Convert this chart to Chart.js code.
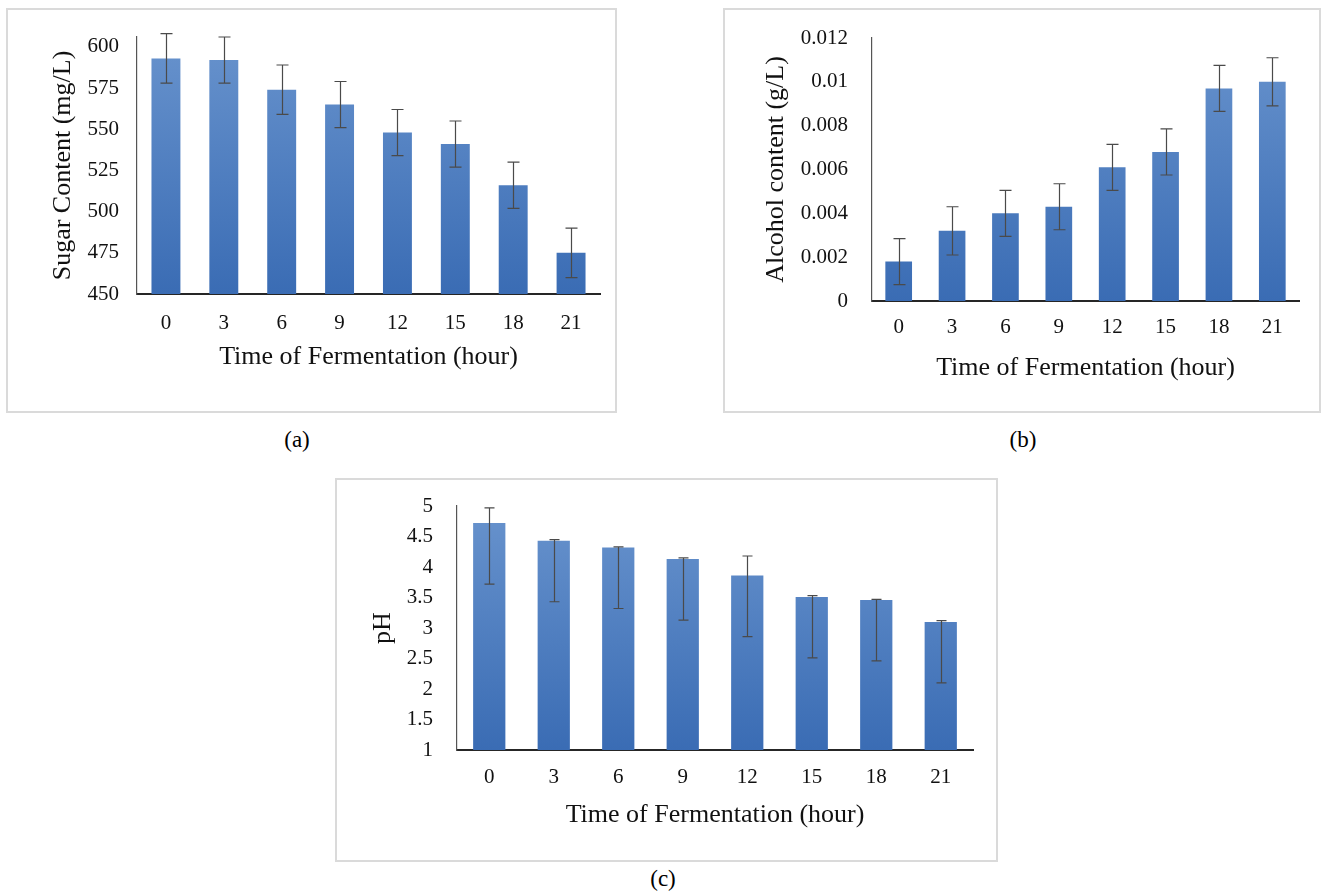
<!DOCTYPE html>
<html>
<head>
<meta charset="utf-8">
<script src="https://cdn.jsdelivr.net/npm/chart.js@4.4.0/dist/chart.umd.min.js"></script>
<style>
  body { margin: 0; background: #fff; width: 1329px; height: 893px; position: relative; overflow: hidden; }
  .box { position: absolute; border: 2px solid #dadada; box-sizing: border-box; background: #fff; }
  .box canvas { position: absolute; left: 0; top: 0; }
  .cap { position: absolute; font-family: "Liberation Serif", "Times New Roman", serif; font-size: 23px; color: #000; transform: translateX(-50%); }
</style>
</head>
<body>

<div class="box" style="left:6px; top:8px; width:611px; height:405px;"><canvas id="sugarChart" width="607" height="401"></canvas></div>
<div class="box" style="left:723px; top:8px; width:598px; height:405px;"><canvas id="alcoholChart" width="594" height="401"></canvas></div>
<div class="box" style="left:335px; top:478px; width:663px; height:384px;"><canvas id="phChart" width="659" height="380"></canvas></div>

<div class="cap" style="left:297px; top:427px;">(a)</div>
<div class="cap" style="left:1023px; top:427px;">(b)</div>
<div class="cap" style="left:663px; top:866px;">(c)</div>

<script>
// time of fermentation (hour)
const hours = ['0', '3', '6', '9', '12', '15', '18', '21'];

// (a) sugar content, mg/L
const sugar = [593, 592, 574, 565, 548, 541, 516, 475];
const sugarErr = [15, 14, 15, 14, 14, 14, 14, 15];

// (b) alcohol content, g/L
const alcohol = [0.0018, 0.0032, 0.0040, 0.0043, 0.0061, 0.0068, 0.0097, 0.0100];
const alcoholErr = [0.00105, 0.0011, 0.00105, 0.00105, 0.00105, 0.00105, 0.00105, 0.0011];

// (c) pH, error bars are not symmetric
const ph = [4.72, 4.43, 4.32, 4.13, 3.86, 3.51, 3.46, 3.10];
const phErrUp = [0.25, 0.02, 0.01, 0.02, 0.32, 0.02, 0.01, 0.02];
const phErrDown = [1, 1, 1, 1, 1, 1, 1, 1];

const serif = '"Liberation Serif", "Times New Roman", serif';

// draws the whiskers from the err arrays using the y scale
const errorBars = {
    id: 'errorBars',
    afterDatasetsDraw(chart, args, opts) {
        const ctx = chart.ctx;
        const meta = chart.getDatasetMeta(0);
        const y = chart.scales.y;
        ctx.save();
        ctx.strokeStyle = opts.color;
        ctx.lineWidth = 1.2;
        meta.data.forEach((bar, i) => {
            const v = chart.data.datasets[0].data[i];
            const top = y.getPixelForValue(v + opts.up[i]);
            const bottom = y.getPixelForValue(v - opts.down[i]);
            const x = Math.round(bar.x) + 0.5;
            ctx.beginPath();
            ctx.moveTo(x, top);
            ctx.lineTo(x, bottom);
            ctx.moveTo(x - opts.cap, top);
            ctx.lineTo(x + opts.cap, top);
            ctx.moveTo(x - opts.cap, bottom);
            ctx.lineTo(x + opts.cap, bottom);
            ctx.stroke();
        });
        ctx.restore();
    }
};

function barFill(context) {
    const area = context.chart.chartArea;
    if (!area) return '#4a7cc0';
    const g = context.chart.ctx.createLinearGradient(0, area.top, 0, area.bottom);
    g.addColorStop(0, '#6893cd');
    g.addColorStop(1, '#3a6cb4');
    return g;
}

function trimNum(v) {
    return String(parseFloat(Number(v).toFixed(4)));
}

function makeChart(id, values, up, down, c) {
    const ctx = document.getElementById(id).getContext('2d');
    return new Chart(ctx, {
        type: 'bar',
        data: {
            labels: hours,
            datasets: [{
                data: values,
                backgroundColor: barFill,
                borderWidth: 0,
                categoryPercentage: 1,
                barPercentage: 0.5
            }]
        },
        options: {
            responsive: false,
            animation: false,
            layout: { padding: c.padding },
            plugins: {
                legend: { display: false },
                tooltip: { enabled: false },
                errorBars: { up: up, down: down, cap: c.cap, color: '#4a4a4a' }
            },
            scales: {
                x: {
                    grid: { display: false, drawTicks: false },
                    border: { display: true, color: '#262626', width: 2 },
                    ticks: { color: '#111', padding: c.xTickPad, font: { family: serif, size: 21 } },
                    title: {
                        display: true, text: 'Time of Fermentation (hour)', color: '#111',
                        font: { family: serif, size: 26 }, padding: { top: 0, bottom: c.xTitlePad }
                    },
                    afterFit: s => { s.height = c.xHeight; }
                },
                y: {
                    min: c.min, max: c.max,
                    grid: { display: false, drawTicks: false },
                    border: { display: true, color: '#555', width: 1.2 },
                    ticks: {
                        stepSize: c.step, includeBounds: false, color: '#111',
                        padding: c.yTickPad, font: { family: serif, size: 21 },
                        callback: v => trimNum(v)
                    },
                    title: {
                        display: true, text: c.yTitle, color: '#111',
                        font: { family: serif, size: 26 }, padding: { top: c.yTitlePad, bottom: 0 }
                    },
                    afterFit: s => {
                        s.width = c.yWidth;
                        // keep the plot top where the layout padding puts it
                        s.paddingTop = 0;
                        s.paddingBottom = 0;
                    }
                }
            }
        },
        plugins: [errorBars]
    });
}

makeChart('sugarChart', sugar, sugarErr, sugarErr, {
    min: 450, max: 606, step: 25, yTitle: 'Sugar Content (mg/L)',
    padding: { top: 27, right: 15, bottom: 0, left: 0 },
    yWidth: 129, xHeight: 117, yTickPad: 18, xTickPad: 17,
    yTitlePad: 40, xTitlePad: 38, cap: 6
});

makeChart('alcoholChart', alcohol, alcoholErr, alcoholErr, {
    min: 0, max: 0.012, step: 0.002, yTitle: 'Alcohol content (g/L)',
    padding: { top: 28, right: 20, bottom: 0, left: 0 },
    yWidth: 147, xHeight: 110, yTickPad: 24, xTickPad: 14,
    yTitlePad: 36, xTitlePad: 27, cap: 6
});

makeChart('phChart', ph, phErrUp, phErrDown, {
    min: 1, max: 5, step: 0.5, yTitle: 'pH',
    padding: { top: 26, right: 23, bottom: 0, left: 0 },
    yWidth: 120, xHeight: 110, yTickPad: 24, xTickPad: 15,
    yTitlePad: 31, xTitlePad: 29, cap: 5
});
</script>
</body>
</html>
